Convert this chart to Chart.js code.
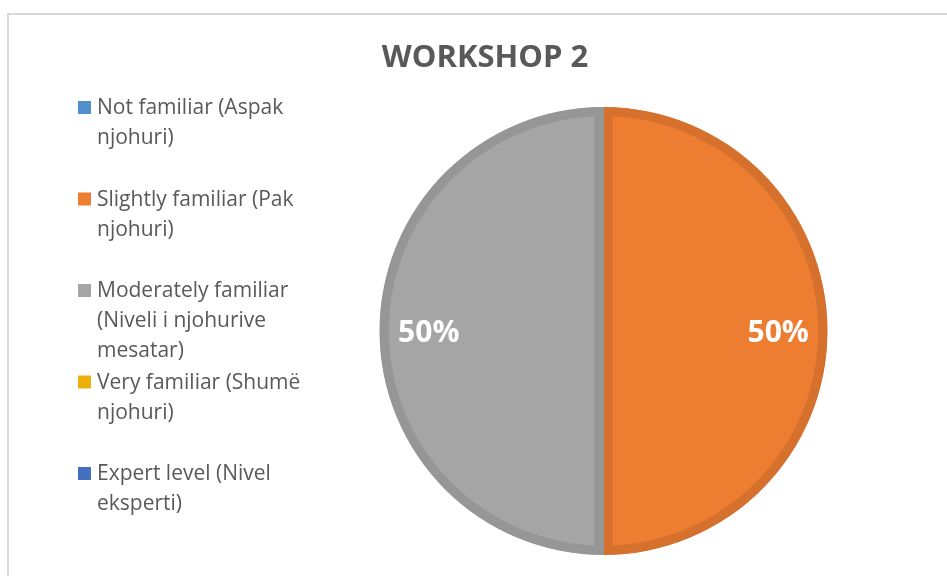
<!DOCTYPE html>
<html>
<head>
<meta charset="utf-8">
<script src="https://cdn.jsdelivr.net/npm/chart.js@4/dist/chart.umd.min.js"></script>
<style>
  html, body { margin: 0; padding: 0; background: #ffffff; }
  canvas { display: block; }
</style>
</head>
<body>
<canvas id="c" width="947" height="576"></canvas>
<script>
const chartTitle = "WORKSHOP 2";
const categories = [
  ["Not familiar (Aspak", "njohuri)"],
  ["Slightly familiar (Pak", "njohuri)"],
  ["Moderately familiar", "(Niveli i njohurive", "mesatar)"],
  ["Very familiar (Shumë", "njohuri)"],
  ["Expert level (Nivel", "eksperti)"]
];
const values = [0, 50, 50, 0, 0];
const fillColors = ["#5290CB", "#ED7D31", "#A5A5A5", "#EBB10A", "#4470C0"];
const borderColors = ["#4C88BE", "#D6712D", "#969696", "#E0A800", "#3A62AC"];

const TEXT_COLOR = "#595959";

const framePlugin = {
  id: "frame",
  beforeDraw(chart) {
    const ctx = chart.ctx;
    ctx.save();
    ctx.strokeStyle = "#D9D9D9";
    ctx.lineWidth = 2;
    ctx.beginPath();
    ctx.moveTo(8, 1000);
    ctx.lineTo(8, 14);
    ctx.lineTo(1000, 14);
    ctx.stroke();
    ctx.restore();
  }
};

const titlePlugin = {
  id: "customTitle",
  afterDraw(chart) {
    const ctx = chart.ctx;
    ctx.save();
    ctx.fillStyle = TEXT_COLOR;
    ctx.font = "bold 31px 'Open Sans', 'Liberation Sans', sans-serif";
    ctx.textAlign = "center";
    ctx.textBaseline = "middle";
    ctx.fillText(chartTitle, 485, 58);
    ctx.restore();
  }
};

const legendPlugin = {
  id: "customLegend",
  afterDraw(chart) {
    const ctx = chart.ctx;
    const labels = chart.data.labels;
    const colors = chart.data.datasets[0].backgroundColor;
    ctx.save();
    ctx.font = "21px 'Open Sans', 'Liberation Sans', sans-serif";
    ctx.textAlign = "left";
    ctx.textBaseline = "alphabetic";
    labels.forEach((lines, i) => {
      const base = 114 + i * 91.5;
      ctx.fillStyle = colors[i];
      ctx.fillRect(78, base - 13, 13, 13);
      ctx.fillStyle = TEXT_COLOR;
      (Array.isArray(lines) ? lines : [lines]).forEach((ln, j) => {
        ctx.fillText(ln, 97, base + j * 30);
      });
    });
    ctx.restore();
  }
};

const pctPlugin = {
  id: "pctLabels",
  afterDatasetsDraw(chart) {
    const ctx = chart.ctx;
    const meta = chart.getDatasetMeta(0);
    const data = chart.data.datasets[0].data;
    const total = data.reduce((a, b) => a + b, 0);
    ctx.save();
    ctx.fillStyle = "#FFFFFF";
    ctx.font = "bold 30px 'Open Sans', 'Liberation Sans', sans-serif";
    ctx.textAlign = "center";
    ctx.textBaseline = "middle";
    meta.data.forEach((el, i) => {
      if (!data[i]) return;
      const p = el.getProps(["x", "y", "startAngle", "endAngle", "outerRadius"], true);
      const mid = (p.startAngle + p.endAngle) / 2;
      const r = p.outerRadius * 0.78;
      const x = p.x + Math.cos(mid) * r;
      const y = p.y + Math.sin(mid) * r + 2;
      ctx.fillText(Math.round(data[i] / total * 100) + "%", x, y);
    });
    ctx.restore();
  }
};

new Chart(document.getElementById("c"), {
  type: "pie",
  data: {
    labels: categories,
    datasets: [{
      data: values,
      backgroundColor: fillColors,
      borderColor: borderColors,
      borderWidth: (c) => (c.raw ? 9 : 0),
      hoverBorderWidth: (c) => (c.raw ? 9 : 0),
      borderAlign: "inner"
    }]
  },
  options: {
    responsive: false,
    animation: false,
    layout: { padding: { left: 379.5, right: 119.5, top: 107, bottom: 21 } },
    plugins: {
      legend: { display: false },
      title: { display: false },
      tooltip: { enabled: false }
    },
    events: []
  },
  plugins: [framePlugin, titlePlugin, legendPlugin, pctPlugin]
});
</script>
</body>
</html>
